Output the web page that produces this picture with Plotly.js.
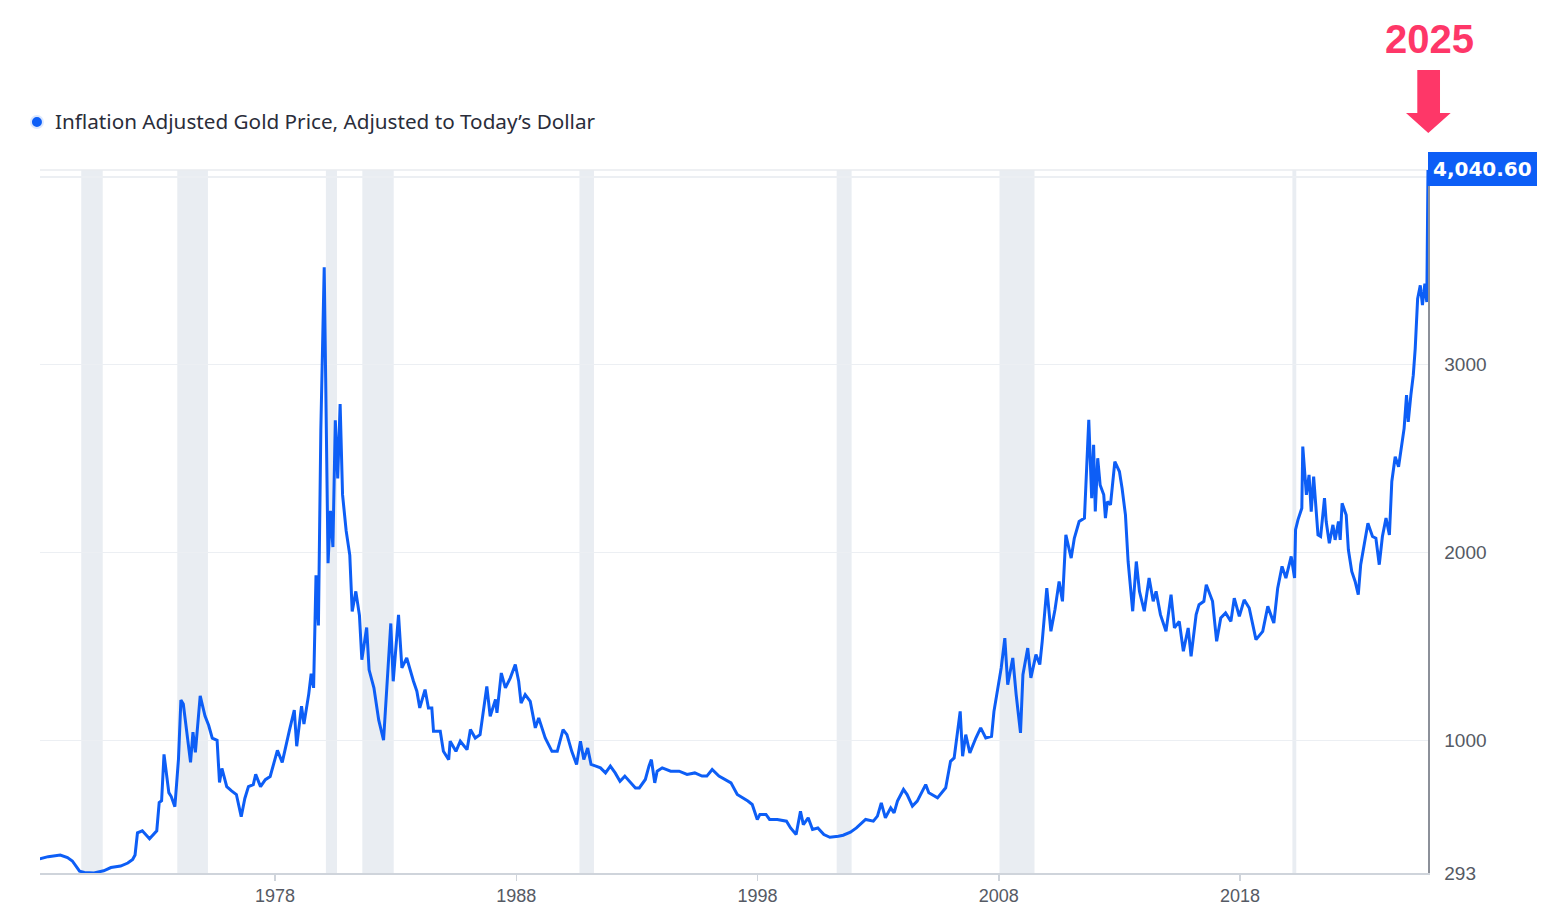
<!DOCTYPE html>
<html>
<head>
<meta charset="utf-8">
<script src="https://cdn.plot.ly/plotly-3.0.1.min.js"></script>
<style>
  html, body { margin: 0; padding: 0; background: #ffffff; }
  #chart { width: 1566px; height: 924px; }
</style>
</head>
<body>
<div id="chart"></div>
<script>
// ---- Data ----
const years = [
  1968.25,1968.6,1969.1,1969.4,1969.6,1969.9,1970.1,1970.5,1970.9,1971.2,1971.6,1971.9,1972.1,1972.2,1972.3,1972.5,1972.8,
  1973.1,1973.2,1973.3,1973.4,1973.55,1973.6,1973.7,1973.85,1974.0,1974.1,1974.2,1974.35,1974.5,1974.6,1974.7,1974.9,
  1975.1,1975.25,1975.4,1975.6,1975.7,1975.8,1976.0,1976.2,1976.4,1976.6,1976.75,1976.9,1977.1,1977.2,1977.4,1977.6,1977.8,
  1978.1,1978.3,1978.6,1978.8,1978.9,1979.1,1979.2,1979.4,1979.5,1979.6,1979.7,1979.8,1979.9,1980.04,1980.1,1980.2,1980.3,
  1980.4,1980.5,1980.6,1980.7,1980.8,1980.95,1981.1,1981.2,1981.35,1981.5,1981.6,1981.8,1981.9,1982.1,1982.3,1982.5,1982.65,
  1982.8,1982.9,1983.0,1983.12,1983.26,1983.46,1983.74,1983.88,1984.0,1984.22,1984.36,1984.5,1984.57,1984.85,1984.98,1985.2,
  1985.26,1985.5,1985.68,1985.96,1986.1,1986.3,1986.5,1986.78,1986.92,1987.14,1987.2,1987.38,1987.55,1987.75,1987.96,1988.1,
  1988.2,1988.37,1988.58,1988.79,1988.93,1989.2,1989.48,1989.7,1989.94,1990.1,1990.3,1990.5,1990.66,1990.8,1990.96,1991.1,
  1991.3,1991.49,1991.7,1991.9,1992.1,1992.3,1992.5,1992.7,1992.94,1993.1,1993.35,1993.5,1993.6,1993.74,1993.84,1994.05,
  1994.4,1994.75,1995.08,1995.4,1995.7,1995.9,1996.12,1996.4,1996.67,1996.9,1997.16,1997.4,1997.6,1997.78,1997.99,1998.1,
  1998.35,1998.5,1998.82,1999.2,1999.37,1999.6,1999.78,1999.9,2000.1,2000.28,2000.5,2000.75,2001.0,2001.35,2001.55,2001.85,
  2002.1,2002.48,2002.8,2002.97,2003.13,2003.3,2003.52,2003.66,2003.8,2004.05,2004.2,2004.42,2004.62,2004.97,2005.1,2005.46,
  2005.8,2006.0,2006.15,2006.4,2006.5,2006.63,2006.8,2007.05,2007.25,2007.46,2007.7,2007.8,2007.95,2008.1,2008.25,2008.37,
  2008.58,2008.72,2008.9,2009.0,2009.2,2009.33,2009.54,2009.7,2009.8,2009.99,2010.16,2010.33,2010.5,2010.64,2010.78,2011.0,
  2011.13,2011.33,2011.55,2011.73,2011.85,2011.93,2012.0,2012.1,2012.2,2012.35,2012.42,2012.5,2012.63,2012.81,2013.0,2013.11,
  2013.25,2013.36,2013.55,2013.7,2013.83,2014.03,2014.23,2014.4,2014.52,2014.7,2014.93,2015.14,2015.28,2015.48,2015.65,2015.85,
  2015.97,2016.18,2016.3,2016.5,2016.6,2016.86,2017.03,2017.2,2017.4,2017.62,2017.76,2017.97,2018.17,2018.38,2018.66,2018.94,
  2019.15,2019.4,2019.56,2019.74,2019.9,2020.12,2020.26,2020.3,2020.4,2020.56,2020.6,2020.75,2020.86,2020.95,2021.05,2021.23,
  2021.34,2021.5,2021.57,2021.7,2021.85,2021.94,2022.08,2022.15,2022.23,2022.4,2022.49,2022.63,2022.77,2022.9,2023.0,2023.17,
  2023.3,2023.49,2023.63,2023.77,2023.9,2024.05,2024.19,2024.29,2024.43,2024.57,2024.7,2024.8,2024.9,2024.97,2025.08,2025.18,
  2025.26,2025.36,2025.47,2025.56,2025.66,2025.74,2025.79
];
const goldPrice = [
  368,380,389,375,357,303,296,293,305,322,330,346,365,389,507,518,475,
  518,668,678,925,760,721,700,646,900,1214,1193,1050,882,1043,936,1236,
  1129,1080,1011,1000,775,850,753,730,711,593,690,753,764,818,753,790,807,
  946,882,1054,1161,968,1182,1086,1247,1354,1279,1879,1611,2651,3519,2930,1943,2222,
  2029,2704,2394,2790,2308,2115,1986,1686,1793,1665,1429,1600,1375,1279,1107,1000,1300,
  1622,1314,1500,1668,1385,1438,1314,1261,1172,1270,1172,1172,1048,1048,941,897,
  995,941,995,950,1057,1012,1030,1287,1128,1217,1146,1358,1279,1331,1403,1314,
  1198,1243,1207,1066,1119,1012,941,941,1057,1030,941,871,995,897,959,871,
  862,853,826,862,826,782,809,782,746,746,791,862,897,773,835,853,
  835,835,818,826,809,809,844,809,791,773,711,693,676,658,578,605,
  605,578,578,569,533,498,622,551,587,525,533,498,483,489,494,510,
  533,578,569,596,666,587,640,613,676,738,711,649,676,764,720,693,
  747,888,906,1154,915,1030,933,1012,1066,1012,1021,1154,1278,1385,1544,1296,
  1438,1243,1039,1349,1491,1332,1456,1403,1527,1810,1580,1696,1846,1740,2094,1970,
  2076,2165,2183,2706,2289,2573,2218,2502,2360,2307,2183,2271,2254,2484,2431,2342,
  2200,1952,1687,1952,1793,1687,1864,1740,1793,1669,1580,1775,1598,1633,1474,1598,
  1447,1669,1722,1740,1828,1740,1527,1651,1678,1633,1757,1660,1748,1704,1536,1580,
  1713,1624,1810,1926,1864,1979,1864,2121,2174,2236,2564,2307,2413,2218,2404,2094,
  2085,2289,2165,2049,2147,2067,2165,2067,2262,2200,2014,1899,1846,1775,1935,2049,
  2156,2085,2076,1935,2085,2183,2094,2378,2510,2457,2590,2661,2838,2696,2838,2944,
  3086,3352,3423,3317,3432,3334,4040.6
];
const recessionStart = [1969.97, 1973.95, 1980.11, 1981.62, 1990.62, 2001.28, 2008.03, 2020.17];
const recessionEnd   = [1970.86, 1975.22, 1980.57, 1982.92, 1991.22, 2001.90, 2009.48, 2020.33];
const xTickVals = [1978, 1988, 1998, 2008, 2018];
const yTickVals = [293, 1000, 2000, 3000, 4000];
const yTickText = ['293', '1000', '2000', '3000', ''];
const seriesName = 'Inflation Adjusted Gold Price, Adjusted to Today\u2019s Dollar';
const lastLabel = '4,040.60';
const yearLabel = '2025';

const BLUE = '#0d5ef6';
const PINK = '#fe3768';
const Y_MIN = 293, Y_MAX = 4037;

const shapes = [];
for (let i = 0; i < recessionStart.length; i++) {
  shapes.push({
    type: 'rect', layer: 'between', xref: 'x', yref: 'paper',
    x0: recessionStart[i], x1: recessionEnd[i], y0: 0, y1: 1,
    fillcolor: '#e9edf2', line: { width: 0 }
  });
}
// top border of the plot area
shapes.push({ type: 'line', xref: 'paper', yref: 'paper', x0: 0, x1: 1, y0: 1, y1: 1,
  line: { color: '#e8ebef', width: 1.5 }, layer: 'below' });
// legend dot (halo + dot)
shapes.push({ type: 'circle', xref: 'paper', yref: 'paper', xsizemode: 'pixel', ysizemode: 'pixel',
  xanchor: -0.0022, yanchor: 1.0683, x0: -7, x1: 7, y0: -7, y1: 7,
  fillcolor: 'rgba(13,94,246,0.15)', line: { width: 0 } });
shapes.push({ type: 'circle', xref: 'paper', yref: 'paper', xsizemode: 'pixel', ysizemode: 'pixel',
  xanchor: -0.0022, yanchor: 1.0683, x0: -5, x1: 5, y0: -5, y1: 5,
  fillcolor: BLUE, line: { width: 0 } });
// pink arrow pointing at the latest value
shapes.push({ type: 'path', xref: 'paper', yref: 'paper', fillcolor: PINK, line: { width: 0 },
  path: 'M 0.99229 1.14225 L 1.00865 1.14225 L 1.00865 1.08108 L 1.01635 1.08108 L 1.0002 1.0527 L 0.98415 1.08108 L 0.99229 1.08108 Z' });

const trace = {
  x: years, y: goldPrice, type: 'scatter', mode: 'lines',
  line: { color: BLUE, width: 3 }, cliponaxis: false,
  hoverinfo: 'skip', showlegend: false
};

const lastValue = goldPrice[goldPrice.length - 1];

const layout = {
  width: 1566, height: 924,
  margin: { l: 40, r: 138, t: 170, b: 51 },
  paper_bgcolor: '#ffffff', plot_bgcolor: '#ffffff',
  showlegend: false,
  xaxis: {
    range: [1968.26, 2025.79], tickvals: xTickVals, ticktext: xTickVals.map(String),
    showgrid: false, zeroline: false, showline: true, linecolor: '#cfd4db', linewidth: 1.5,
    ticks: 'outside', ticklen: 6, tickcolor: '#cfd4db', tickwidth: 1.5,
    tickfont: { family: 'Liberation Sans, Arial, sans-serif', size: 18, color: '#555a64' },
    fixedrange: true
  },
  yaxis: {
    side: 'right', range: [Y_MIN, Y_MAX], tickvals: yTickVals, ticktext: yTickText,
    showgrid: true, gridcolor: '#eceff3', gridwidth: 1.5, zeroline: false,
    showline: true, linecolor: '#8c9099', linewidth: 1.5, ticks: '',
    ticklabelstandoff: 11,
    tickfont: { family: 'Liberation Sans, Arial, sans-serif', size: 19, color: '#555a64' },
    fixedrange: true
  },
  shapes: shapes,
  annotations: [
    { xref: 'paper', yref: 'paper', x: 0.0094, y: 1.0697, xanchor: 'left', yanchor: 'middle',
      text: seriesName, showarrow: false,
      font: { family: 'Noto Sans, Open Sans, sans-serif', size: 20.7, color: '#2a2d3a' } },
    { xref: 'paper', yref: 'paper', x: 1.0, y: (lastValue - Y_MIN) / (Y_MAX - Y_MIN),
      xanchor: 'left', yanchor: 'middle',
      text: '<b>' + lastLabel + '</b>', showarrow: false, bgcolor: BLUE, bordercolor: BLUE, borderwidth: 1,
      borderpad: 4, font: { family: 'DejaVu Sans, sans-serif', size: 20, color: '#ffffff' } },
    { xref: 'paper', yref: 'paper', x: 1.0014, y: 1.1863, xanchor: 'center', yanchor: 'middle',
      text: '<b>' + yearLabel + '</b>', showarrow: false,
      font: { family: 'Liberation Sans, Arial, sans-serif', size: 40, color: PINK } }
  ],
  hovermode: false
};

Plotly.newPlot('chart', [trace], layout, { displayModeBar: false, staticPlot: true });
</script>
</body>
</html>
